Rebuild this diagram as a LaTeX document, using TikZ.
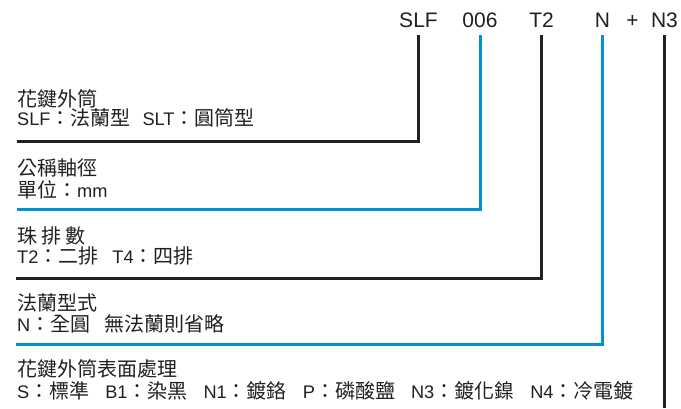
\documentclass[tikz,border=0pt]{standalone}
\usepackage{fontspec}
\setmainfont{Liberation Sans}
\newfontfamily\cjk{Noto Sans CJK TC}
\newcommand\zh[1]{{\cjk\fontsize{20}{22}\selectfont #1}}
\definecolor{lineblack}{HTML}{231F20}
\definecolor{lineblue}{HTML}{0092D8}
\tikzset{
  toplabel/.style={inner sep=0pt, anchor=base, text=lineblack, font=\fontsize{21}{23}\selectfont},
  desc/.style={inner sep=0pt, anchor=base west, text=lineblack, font=\fontsize{18.2}{20}\selectfont},
  blkline/.style={draw=lineblack, line width=3pt},
  bluline/.style={draw=lineblue, line width=3pt},
}
\begin{document}
\begin{tikzpicture}[x=1pt,y=-1pt]
\useasboundingbox (0,0) rectangle (681,408);
% top code labels
\node[toplabel] (slf) at (418.5,27.5) {SLF};
\node[toplabel] (d006) at (480,27.5) {006};
\node[toplabel] (t2) at (541.5,27.5) {T2};
\node[toplabel] (n) at (602.5,27.5) {N};
\node[toplabel] (plus) at (632.5,27.5) {+};
\node[toplabel] (n3) at (664.5,27.5) {N3};
% line ends
\coordinate (e1) at (17,141.5);
\coordinate (e2) at (17,209.5);
\coordinate (e3) at (16,278);
\coordinate (e4) at (16,344.5);
\coordinate (e5) at (664.5,408);
% descriptions
\node[desc] (b1a) at (17,106.5) {\zh{花鍵外筒}};
\node[desc] (b1b) at (17,125.5) {SLF\zh{：法蘭型}\hspace{12pt}SLT\zh{：圓筒型}};
\node[desc] (b2a) at (17,175.5) {\zh{公稱軸徑}};
\node[desc] (b2b) at (17,197) {\zh{單位：}mm};
\node[desc] (b3a) at (17,243.5) {\zh{珠\hspace{4pt}排\hspace{4pt}數}};
\node[desc] (b3b) at (17,263) {T2\zh{：二排}\hspace{14pt}T4\zh{：四排}};
\node[desc] (b4a) at (17,310.5) {\zh{法蘭型式}};
\node[desc] (b4b) at (17,331.5) {N\zh{：全圓}\hspace{14pt}\zh{無法蘭則省略}};
\node[desc] (b5a) at (17,376.5) {\zh{花鍵外筒表面處理}};
\node[desc] (b5b) at (17,398) {S\zh{：標準}\hspace{16pt}B1\zh{：染黑}\hspace{16pt}N1\zh{：鍍鉻}\hspace{16pt}P\zh{：磷酸鹽}\hspace{16pt}N3\zh{：鍍化鎳}\hspace{16pt}N4\zh{：冷電鍍}};
% connectors
\draw[blkline] ([yshift=-7.5pt]slf.base) |- (e1);
\draw[bluline] ([yshift=-7.5pt]d006.base) |- (e2);
\draw[blkline] ([yshift=-7.5pt]t2.base) |- (e3);
\draw[bluline] ([yshift=-7.5pt]n.base) |- (e4);
\draw[blkline] ([yshift=-7.5pt]n3.base) -- (e5);
\end{tikzpicture}
\end{document}
